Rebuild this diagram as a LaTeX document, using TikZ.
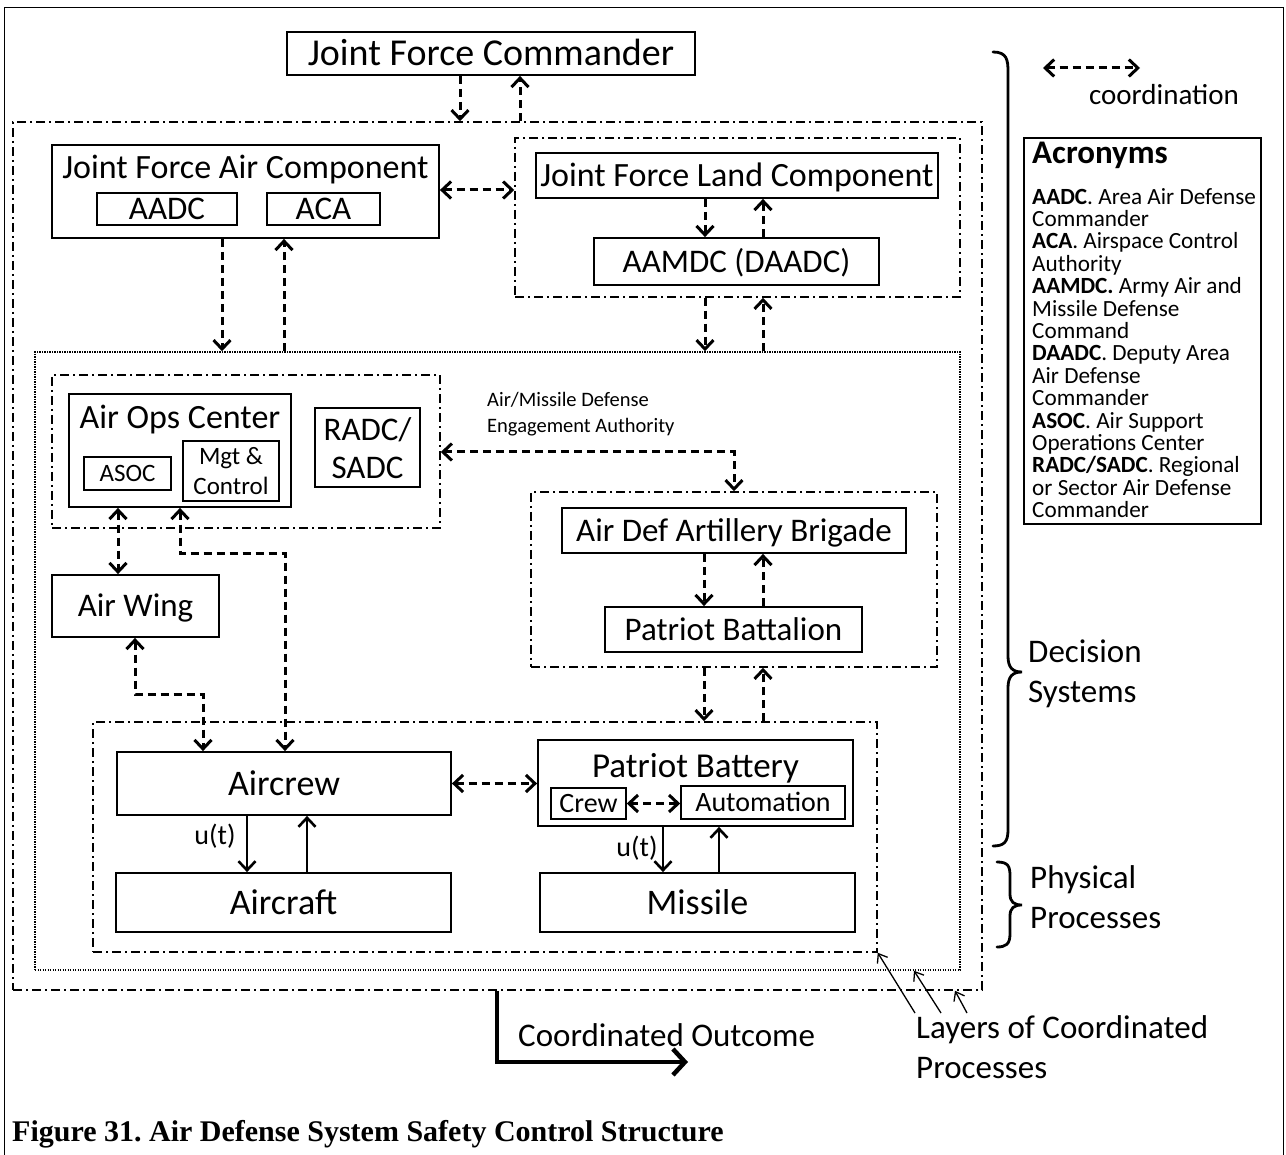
\documentclass[tikz,border=0pt]{standalone}
\usepackage{fontspec}
\setmainfont{Carlito}
\newfontfamily\captionfont{Liberation Serif}
\usetikzlibrary{arrows.meta}
\newcommand\setfs[1]{\fontsize{#1}{#1}\selectfont}
\frenchspacing
\begin{document}
\begin{tikzpicture}[x=1pt,y=-1pt,
  >={Straight Barb[length=9pt,width=17pt]},
  fsz/.style={font=\setfs{#1}, /utils/exec={\pgfmathsetmacro\capht{0.64*#1}},
    text height=\capht pt, text depth=0pt},
  box/.style={draw, line width=1.8pt, inner sep=0pt},
  emptybox/.style={draw, line width=1.8pt, inner sep=0pt},
  subbox/.style={draw, line width=1.6pt, inner sep=0pt},
  lbl/.style={inner sep=0pt},
  layer/.style={draw, line width=1.5pt, dash pattern=on 9pt off 4pt on 2pt off 4pt, inner sep=0pt},
  dotlayer/.style={draw, line width=1.5pt, dash pattern=on 1.2pt off 1.3pt, inner sep=0pt},
  coord/.style={line width=3pt, dash pattern=on 8pt off 5pt},
  ctrl/.style={line width=2.6pt},
  outcome/.style={line width=4.5pt, -{Straight Barb[length=12pt,width=26pt]}},
  pointer/.style={line width=1.3pt, -{Straight Barb[length=8pt,width=12pt]}},
  brace/.style={line width=2.8pt, line cap=round},
]
\useasboundingbox (0,0) rectangle (1286,1155);

% page frame
\draw[line width=1pt] (4,1170) -- (4,8) -- (1283,8) -- (1283,1170);

% ---------- layers of coordinated processes ----------
\node[layer, minimum width=969pt, minimum height=868pt] (l1) at (497.5,556) {};
\node[dotlayer, minimum width=925pt, minimum height=618pt] (l2) at (497.5,661) {};
\node[layer, minimum width=784pt, minimum height=230pt] (l3) at (485,837) {};

% ---------- command level ----------
\node[box, fsz=38, minimum width=408pt, minimum height=43pt] (jfc) at (491,53.5) {Joint Force Commander};

\node[emptybox, minimum width=387pt, minimum height=93pt] (jfac) at (245.5,191.5) {};
\node[lbl, fsz=34] (jfactitle) at (245.5,168) {Joint Force Air Component};
\node[subbox, fsz=33, minimum width=140pt, minimum height=32pt] (aadc) at (167,209) {AADC};
\node[subbox, fsz=33, minimum width=113pt, minimum height=32pt] (aca) at (323.5,209) {ACA};

\node[layer, minimum width=445pt, minimum height=159pt] (landgrp) at (737.5,217.5) {};
\node[box, fsz=34, minimum width=402pt, minimum height=45pt] (jflc) at (737,175.5) {Joint Force Land Component};
\node[box, fsz=33, minimum width=285pt, minimum height=47pt] (aamdc) at (736.5,261.5) {AAMDC (DAADC)};

% ---------- operational level ----------
\node[layer, minimum width=388pt, minimum height=153pt] (aocgrp) at (246,451.5) {};
\node[emptybox, minimum width=222pt, minimum height=113pt] (aoc) at (180,450.5) {};
\node[lbl, fsz=34] (aoctitle) at (180,418) {Air Ops Center};
\node[subbox, fsz=25, minimum width=87pt, minimum height=33pt] (asoc) at (127.5,473.5) {ASOC};
\node[subbox, minimum width=96pt, minimum height=60pt] (mgt) at (231,471) {};
\node[lbl, fsz=25] (mgt1) at (231,457) {Mgt \&};
\node[lbl, fsz=25] (mgt2) at (231,487) {Control};
\node[emptybox, minimum width=105pt, minimum height=79pt] (radc) at (367.5,447.5) {};
\node[lbl, fsz=33] (radc1) at (367.5,430) {RADC/};
\node[lbl, fsz=33] (radc2) at (367.5,468) {SADC};

\node[lbl, anchor=west, fsz=20.5] (ea1) at (487,400) {Air/Missile Defense};
\node[lbl, anchor=west, fsz=20.5] (ea2) at (487,426) {Engagement Authority};

\node[layer, minimum width=406pt, minimum height=175pt] (adagrp) at (734,579.5) {};
\node[box, fsz=33, minimum width=344pt, minimum height=45pt] (ada) at (734,530.5) {Air Def Artillery Brigade};
\node[box, fsz=33, minimum width=257pt, minimum height=45pt] (patbn) at (733.5,629.5) {Patriot Battalion};

\node[box, fsz=33, minimum width=167pt, minimum height=62pt] (airwing) at (135.5,606) {Air Wing};

% ---------- physical level ----------
\node[box, fsz=36, minimum width=334pt, minimum height=63pt] (aircrew) at (284,783.5) {Aircrew};
\node[box, fsz=36, minimum width=335pt, minimum height=59pt] (aircraft) at (283.5,902.5) {Aircraft};

\node[emptybox, minimum width=315pt, minimum height=86pt] (patbty) at (695.5,783) {};
\node[lbl, fsz=35] (patbtytitle) at (695.5,766) {Patriot Battery};
\node[subbox, fsz=28, minimum width=75pt, minimum height=31pt] (crew) at (588.5,803.5) {Crew};
\node[subbox, fsz=28, minimum width=164pt, minimum height=33pt] (auto) at (763,802.5) {Automation};
\node[box, fsz=36, minimum width=315pt, minimum height=59pt] (missile) at (697.5,902.5) {Missile};

% ---------- connector routing points ----------
\coordinate (xa) at (460,0);
\coordinate (xb) at (520,0);
\coordinate (xc) at (222,0);
\coordinate (xd) at (284,0);
\coordinate (xe) at (705,0);
\coordinate (xf) at (763,0);
\coordinate (xg) at (118,0);
\coordinate (xh) at (704,0);
\coordinate (xi) at (247,0);
\coordinate (xj) at (307,0);
\coordinate (xk) at (663,0);
\coordinate (xl) at (719,0);
\coordinate (k1) at (180,553);
\coordinate (k2) at (285,553);
\coordinate (k3) at (135,694);
\coordinate (k4) at (203,694);
\coordinate (k5) at (734,452);
\coordinate (k6) at (497,1062);
\coordinate (k7) at (688,1062);

% ---------- coordination connectors ----------
\draw[coord,->] (xa |- jfc.south) -- (xa |- l1.north);
\draw[coord,->] (xb |- l1.north) -- (xb |- jfc.south);
\draw[coord,<->] (jfac.east |- 0,190) -- (landgrp.west |- 0,190);
\draw[coord,->] (xc |- jfac.south) -- (xc |- l2.north);
\draw[coord,->] (xd |- l2.north) -- (xd |- jfac.south);
\draw[coord,->] (xe |- jflc.south) -- (xe |- aamdc.north);
\draw[coord,->] (xf |- aamdc.north) -- (xf |- jflc.south);
\draw[coord,->] (xe |- landgrp.south) -- (xe |- l2.north);
\draw[coord,->] (xf |- l2.north) -- (xf |- landgrp.south);
\draw[coord,<->] (xg |- aoc.south) -- (xg |- airwing.north);
\draw[coord,<->] (k1 |- aoc.south) -- (k1) -- (k2) -- (k2 |- aircrew.north);
\draw[coord,<->] (k3 |- airwing.south) -- (k3) -- (k4) -- (k4 |- aircrew.north);
\draw[coord,<->] (aocgrp.east |- k5) -- (k5) -- (k5 |- adagrp.north);
\draw[coord,->] (xh |- ada.south) -- (xh |- patbn.north);
\draw[coord,->] (xf |- patbn.north) -- (xf |- ada.south);
\draw[coord,->] (xh |- adagrp.south) -- (xh |- l3.north);
\draw[coord,->] (xf |- l3.north) -- (xf |- adagrp.south);
\draw[coord,<->] (aircrew.east) -- (aircrew.east -| patbty.west);
\draw[coord,<->] (crew.east) -- (crew.east -| auto.west);

% ---------- control and feedback ----------
\draw[ctrl,->] (xi |- aircrew.south) -- (xi |- aircraft.north);
\draw[ctrl,->] (xj |- aircraft.north) -- (xj |- aircrew.south);
\node[lbl, fsz=28] (u1) at (215,836) {u(t)};
\draw[ctrl,->] (xk |- patbty.south) -- (xk |- missile.north);
\draw[ctrl,->] (xl |- missile.north) -- (xl |- patbty.south);
\node[lbl, fsz=28] (u2) at (637,848) {u(t)};

% ---------- outcome ----------
\draw[outcome] (k6 |- l1.south) -- (k6) -- (k7);
\node[lbl, anchor=west, fsz=33] (outcome) at (518,1036) {Coordinated Outcome};

% ---------- layer pointers ----------
\coordinate (p1) at (915,1013);
\coordinate (p2) at (941,1013);
\coordinate (p3) at (967,1013);
\coordinate (q2) at (914,0);
\coordinate (q3) at (955,0);
\draw[pointer] (p1) -- (l3.south east);
\draw[pointer] (p2) -- (q2 |- l2.south);
\draw[pointer] (p3) -- (q3 |- l1.south);
\node[lbl, anchor=west, fsz=33] (layers1) at (916,1028) {Layers of Coordinated};
\node[lbl, anchor=west, fsz=33] (layers2) at (916,1068) {Processes};

% ---------- braces ----------
\draw[brace] (993,52) .. controls (1007,52) and (1008,60) .. (1008,72) -- (1008,656)
  .. controls (1008,667) and (1012,672) .. (1022,672)
  .. controls (1012,672) and (1008,677) .. (1008,688) -- (1008,830)
  .. controls (1008,842) and (1004,846) .. (993,846);
\node[lbl, anchor=west, fsz=33] (dec1) at (1028,652) {Decision};
\node[lbl, anchor=west, fsz=33] (dec2) at (1028,692) {Systems};

\draw[brace] (997,862) .. controls (1008,862) and (1010,866) .. (1010,876) -- (1010,894)
  .. controls (1010,902) and (1014,905) .. (1022,905)
  .. controls (1014,905) and (1010,908) .. (1010,916) -- (1010,934)
  .. controls (1010,944) and (1006,947) .. (997,947);
\node[lbl, anchor=west, fsz=33] (phy1) at (1030,878) {Physical};
\node[lbl, anchor=west, fsz=33] (phy2) at (1030,918) {Processes};

% ---------- legend ----------
\coordinate (lg1) at (1043,68);
\coordinate (lg2) at (1140,68);
\draw[coord,<->] (lg1) -- (lg2);
\node[lbl, fsz=29] (coordlbl) at (1164,95) {coordination};

\node[draw, line width=1.6pt, minimum width=237pt, minimum height=386pt, inner sep=0pt] (acro) at (1142.5,331) {};
\node[lbl, anchor=west, font=\bfseries\setfs{33}, text height=21pt, text depth=0pt] (acrotitle) at (1032,153) {Acronyms};
\node[anchor=north west, inner sep=0pt, align=left, font=\fontsize{23.2}{22.4}\selectfont] (acrolist) at (1032,188) {%
\textbf{AADC}. Area Air Defense\\
Commander\\
\textbf{ACA}. Airspace Control\\
Authority\\
\textbf{AAMDC.} Army Air and\\
Missile Defense\\
Command\\
\textbf{DAADC}. Deputy Area\\
Air Defense\\
Commander\\
\textbf{ASOC}. Air Support\\
Operations Center\\
\textbf{RADC/SADC}. Regional\\
or Sector Air Defense\\
Commander};

% ---------- caption ----------
\node[lbl, anchor=west, font=\captionfont\bfseries\setfs{30}, text height=19pt, text depth=0pt] (caption) at (12,1132) {Figure 31. Air Defense System Safety Control Structure};
\end{tikzpicture}
\end{document}
